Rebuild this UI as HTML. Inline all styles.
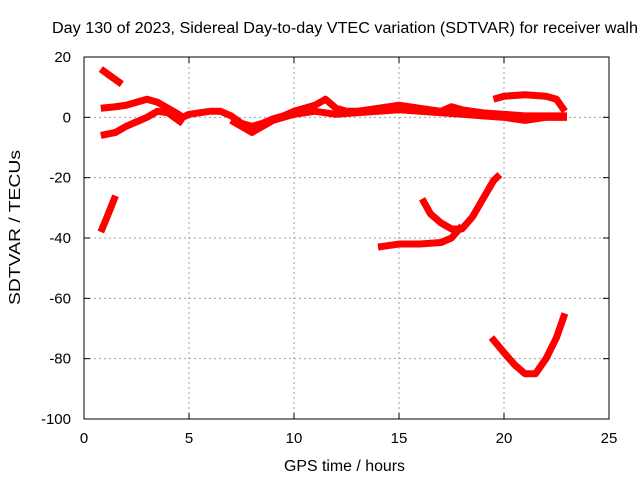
<!DOCTYPE html>
<html><head><meta charset="utf-8"><style>
body{margin:0;background:#fff;}
svg{display:block;font-family:"Liberation Sans",sans-serif;}
</style></head><body>
<svg id="chart" width="640" height="480">
<text x="52" y="33" font-size="15.5" textLength="586" lengthAdjust="spacingAndGlyphs">Day 130 of 2023, Sidereal Day-to-day VTEC variation (SDTVAR) for receiver walh</text>
<g id="grid"></g>
<g id="series"></g>
<g id="axes"></g>
<text x="284" y="471" font-size="15.5" textLength="121" lengthAdjust="spacingAndGlyphs">GPS time / hours</text>
<text transform="translate(20,305) rotate(-90)" font-size="15.5" textLength="155" lengthAdjust="spacingAndGlyphs">SDTVAR / TECUs</text>
</svg>
<script>
const xTicks=[0,5,10,15,20,25];
const yTicks=[20,0,-20,-40,-60,-80,-100];
const s1=[[0.8,16],[1.2,14],[1.8,11]];
const s2=[[0.8,3],[1.5,3.5],[2,4],[2.5,5],[3,6],[3.5,5],[4,3],[4.5,1],[4.7,0],[5,1],[5.5,1.5],[6,2],[6.5,2],[7,0.5],[7.5,-2],[8,-3],[8.5,-2],[9,-0.5],[9.5,0.5],[10,2],[10.5,3],[11,4],[11.5,6],[12,3],[12.5,2],[13,2],[14,3],[15,4],[16,3],[17,2],[17.5,3.5],[18,2.5],[19,1.5],[20,1],[21,0.5],[22,0.5],[23,0.5]];
const s3=[[0.8,-6],[1.5,-5],[2,-3],[2.5,-1.5],[3,0],[3.5,2],[4,1.5],[4.5,-1],[4.7,-2]];
const s4=[[7,-1],[7.5,-3],[8,-5],[8.5,-3],[9,-1],[10,1],[11,2],[12,1],[13,1.5],[14,2],[15,2.5],[16,2],[17,1.5],[18,1],[19,0.5],[20,0],[21,-1],[22,0],[23,0]];
const s5=[[19.5,6],[20,7],[21,7.5],[22,7],[22.5,6],[22.9,2]];
const s6=[[0.8,-38],[1.1,-33],[1.5,-26]];
const s7=[[14,-43],[15,-42],[16,-42],[17,-41.5],[17.5,-40],[18,-36]];
const s8=[[16.1,-27],[16.5,-32],[17,-35],[17.5,-37],[18,-37],[18.5,-33],[19,-27],[19.5,-21],[19.8,-19]];
const s9=[[19.4,-73],[20,-78],[20.5,-82],[21,-85],[21.5,-85],[22,-80],[22.5,-73],[22.9,-65]];
const allSeries=[s1,s2,s3,s4,s5,s6,s7,s8,s9];
const X0=84,X1=609,Y0=57,Y1=419;
const xs=h=>X0+(h-0)/25*(X1-X0);
const ys=v=>Y0+(20-v)/120*(Y1-Y0);
const NS="http://www.w3.org/2000/svg";
function mk(t,a,p){const e=document.createElementNS(NS,t);for(const k in a)e.setAttribute(k,a[k]);p.appendChild(e);return e;}
const grid=document.getElementById('grid'),axes=document.getElementById('axes'),ser=document.getElementById('series');
xTicks.forEach(t=>{const x=xs(t);
 if(t>0&&t<25){const g=mk('line',{x1:x,x2:x,y1:Y0,y2:Y1,stroke:'#a0a0a0','stroke-dasharray':'2,3'},grid);
 
 }
 mk('line',{x1:x,x2:x,y1:Y1,y2:Y1-6,stroke:'#000'},axes);mk('line',{x1:x,x2:x,y1:Y0,y2:Y0+6,stroke:'#000'},axes);
 const l=mk('text',{x:x,y:Y1+24,'font-size':15,'text-anchor':'middle'},axes);l.textContent=t;
 
 });
yTicks.forEach(t=>{const y=ys(t);
 if(t<20&&t>-100){const g=mk('line',{x1:X0,x2:X1,y1:y,y2:y,stroke:'#a0a0a0','stroke-dasharray':'2,3'},grid);
 
 }
 mk('line',{x1:X0,x2:X0+6,y1:y,y2:y,stroke:'#000'},axes);mk('line',{x1:X1,x2:X1-6,y1:y,y2:y,stroke:'#000'},axes);
 const l=mk('text',{x:X0-13,y:y+5,'font-size':15,'text-anchor':'end'},axes);l.textContent=t;
 
 });
const fr=mk('rect',{x:X0,y:Y0,width:X1-X0,height:Y1-Y0,fill:'none',stroke:'#000'},axes);


allSeries.forEach(s=>{const p=mk('polyline',{points:s.map(d=>xs(d[0])+','+ys(d[1])).join(' '),fill:'none',stroke:'#f00','stroke-width':7,'stroke-linejoin':'round'},ser);
 
 });
</script>
</body></html>
